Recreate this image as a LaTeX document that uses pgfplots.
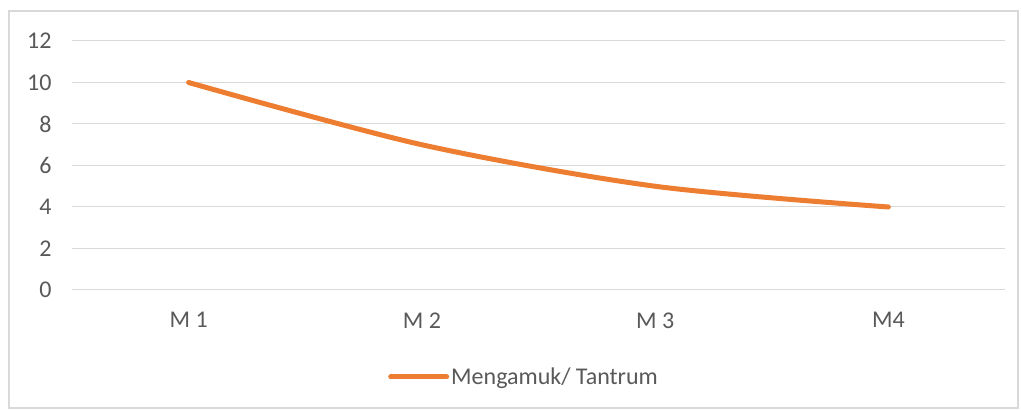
\documentclass[border=0pt]{standalone}
\usepackage{pgfplots}
\pgfplotsset{compat=1.18}
\usetikzlibrary{calc}
\usepackage{fontspec}
\setmainfont{Carlito}
\definecolor{lineor}{HTML}{ED7D31}
\definecolor{txt}{HTML}{595959}
\definecolor{gridc}{HTML}{D9D9D9}
\begin{document}
\begin{tikzpicture}
\begin{axis}[
  name=ax,
  scale only axis,
  width=933pt, height=249pt,
  xmin=-0.5, xmax=3.5,
  ymin=0, ymax=12,
  ytick={0,2,...,12},
  xtick={0,1,2,3},
  xticklabels={M 1,M 2,M 3,M4},
  axis line style={draw=none},
  major tick length=0pt,
  ymajorgrids, xmajorgrids=false,
  grid style={gridc, line width=1pt},
  tick label style={font=\fontsize{24}{28}\selectfont, text=txt},
  /pgf/number format/assume math mode=true,
  yticklabel style={xshift=-17pt},
  xticklabel style={yshift=-19pt},
  legend style={draw=none, fill=none, at={(0.4845,-0.349)}, anchor=center,
    font=\fontsize{24}{28}\selectfont, text=txt, inner sep=0pt,
    nodes={inner sep=2pt}},
  legend cell align=left,
  legend image code/.code={\draw[line width=5pt, lineor] (0pt,0pt) -- (56pt,0pt);},
]
\addplot[lineor, line width=5pt, smooth, tension=0.5, line cap=round] coordinates {
  (0,10) (1,7) (2,5) (3,4)
};
\addlegendentry{Mengamuk/ Tantrum}
\end{axis}
\path[use as bounding box] ($(ax.south west)+(-72pt,-121pt)$) rectangle ($(ax.south west)+(949pt,290pt)$);
\draw[gridc, line width=1.2pt] ($(ax.south west)+(-63pt,-118pt)$) rectangle ($(ax.south west)+(946pt,279pt)$);
\end{tikzpicture}
\end{document}
